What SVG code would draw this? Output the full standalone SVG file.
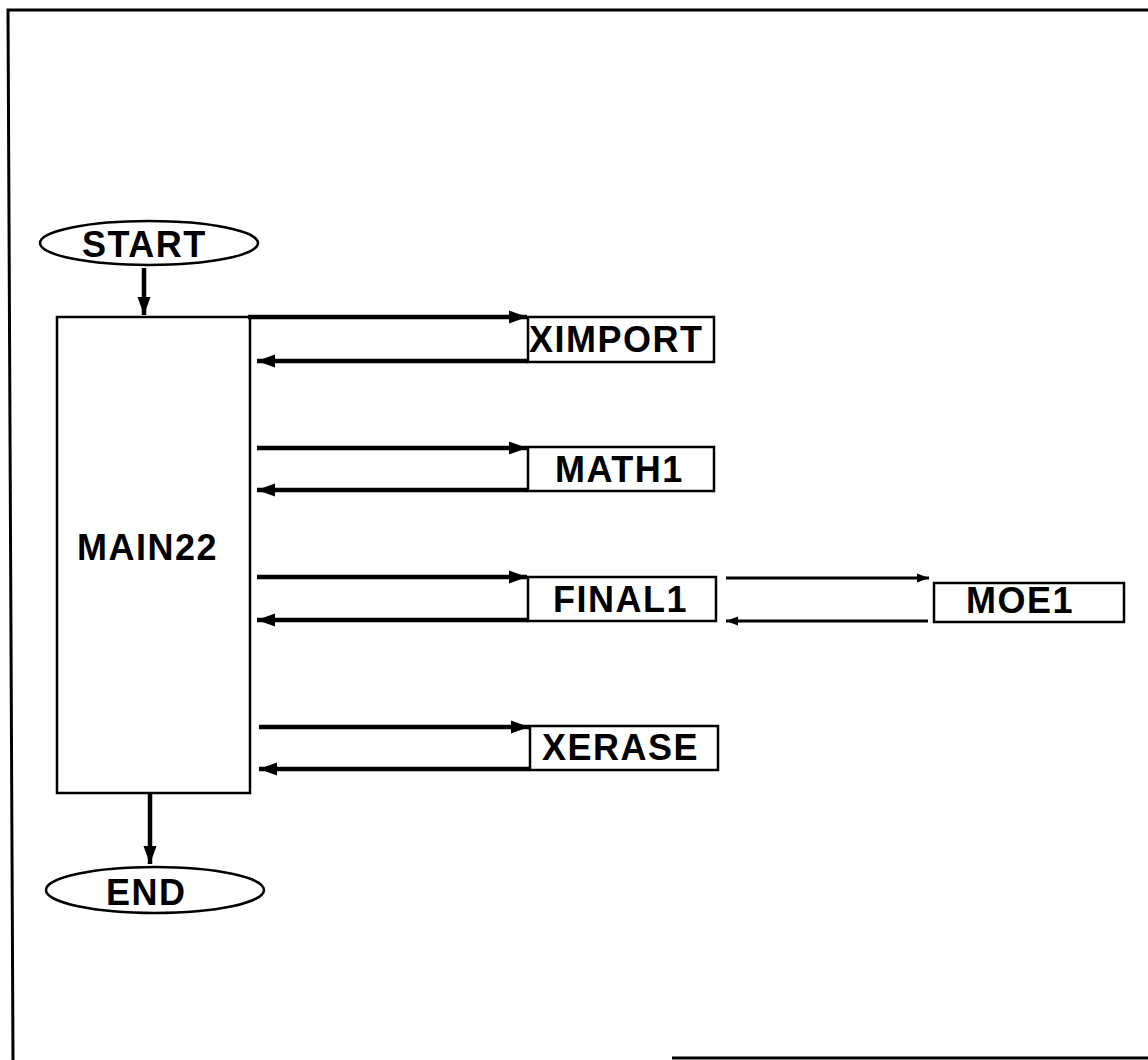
<svg xmlns="http://www.w3.org/2000/svg" width="1148" height="1060" viewBox="0 0 1148 1060">
  <style>
    .box { fill: #fff; stroke: #000; stroke-width: 2.5; }
    .lbl { font-family: "Liberation Sans", Arial, sans-serif; font-size: 36px; font-weight: bold; letter-spacing: 1.5px; fill: #000; }
    .flow { stroke: #000; stroke-width: 4.5; fill: none; }
    .thin { stroke: #000; stroke-width: 3; fill: none; }
    .frame { stroke: #000; stroke-width: 3; fill: none; }
  </style>
  <defs>
    <marker id="head" markerUnits="userSpaceOnUse" markerWidth="20" markerHeight="16" refX="18" refY="8" orient="auto">
      <path d="M0,1.5 L18,8 L0,14.5 Z" fill="#000"/>
    </marker>
    <marker id="headSmall" markerUnits="userSpaceOnUse" markerWidth="14" markerHeight="12" refX="12" refY="6" orient="auto">
      <path d="M0,1.5 L12,6 L0,10.5 Z" fill="#000"/>
    </marker>
  </defs>

  <rect width="1148" height="1060" fill="#fff"/>

  <!-- page border -->
  <path class="frame" d="M1148,10 L8,10 L13,1060"/>
  <path class="frame" d="M672,1058 L1148,1058"/>

  <!-- terminals -->
  <g id="start">
    <ellipse class="box" cx="149" cy="243" rx="109" ry="22"/>
    <text class="lbl" x="82" y="257">START</text>
  </g>
  <g id="end">
    <ellipse class="box" cx="155" cy="890" rx="109" ry="23"/>
    <text class="lbl" x="106" y="905">END</text>
  </g>

  <!-- main program -->
  <g id="main22">
    <rect class="box" x="57" y="317" width="193" height="476"/>
    <text class="lbl" x="77" y="560">MAIN22</text>
  </g>

  <!-- subprograms -->
  <g id="ximport">
    <rect class="box" x="528" y="317" width="186" height="45"/>
    <text class="lbl" x="529" y="352">XIMPORT</text>
  </g>
  <g id="math1">
    <rect class="box" x="528" y="447" width="186" height="44"/>
    <text class="lbl" x="555" y="482">MATH1</text>
  </g>
  <g id="final1">
    <rect class="box" x="528" y="577" width="188" height="44"/>
    <text class="lbl" x="553" y="612">FINAL1</text>
  </g>
  <g id="moe1">
    <rect class="box" x="934" y="583" width="190" height="39"/>
    <text class="lbl" x="966" y="613">MOE1</text>
  </g>
  <g id="xerase">
    <rect class="box" x="530" y="726" width="188" height="44"/>
    <text class="lbl" x="542" y="760">XERASE</text>
  </g>

  <!-- connectors -->
  <g id="connectors">
    <line class="flow" x1="144" y1="268" x2="144" y2="315" marker-end="url(#head)"/>
    <line class="flow" x1="150" y1="794" x2="150" y2="864" marker-end="url(#head)"/>

    <line class="flow" x1="248" y1="317" x2="527" y2="317" marker-end="url(#head)"/>
    <line class="flow" x1="528" y1="361" x2="257" y2="361" marker-end="url(#head)"/>

    <line class="flow" x1="257" y1="448" x2="527" y2="448" marker-end="url(#head)"/>
    <line class="flow" x1="528" y1="490" x2="257" y2="490" marker-end="url(#head)"/>

    <line class="flow" x1="257" y1="577" x2="527" y2="577" marker-end="url(#head)"/>
    <line class="flow" x1="528" y1="620" x2="257" y2="620" marker-end="url(#head)"/>

    <line class="thin" x1="726" y1="578" x2="929" y2="578" marker-end="url(#headSmall)"/>
    <line class="thin" x1="928" y1="621" x2="726" y2="621" marker-end="url(#headSmall)"/>

    <line class="flow" x1="259" y1="727" x2="529" y2="727" marker-end="url(#head)"/>
    <line class="flow" x1="530" y1="769" x2="259" y2="769" marker-end="url(#head)"/>
  </g>
</svg>
